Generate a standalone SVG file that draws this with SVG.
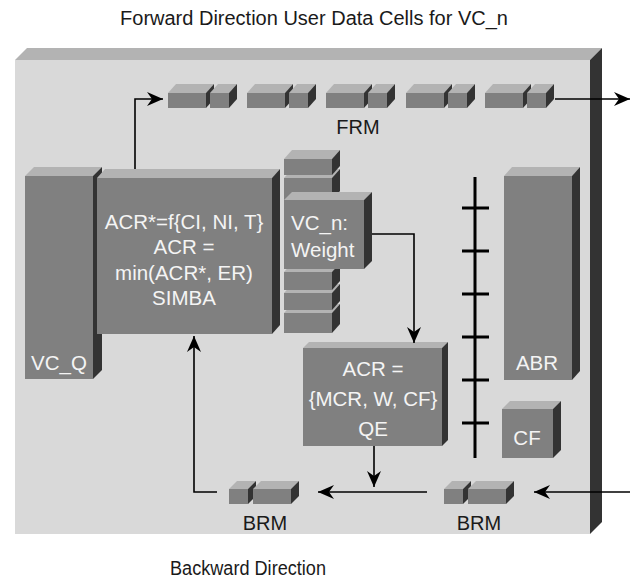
<svg xmlns="http://www.w3.org/2000/svg" xmlns:xlink="http://www.w3.org/1999/xlink" width="630" height="580" viewBox="0 0 630 580">
<style>
.front{fill:#808080}
.top{fill:#b3b3b3}
.side{fill:#333333}
.pfront{fill:#d9d9d9}
.in{font-family:"Liberation Sans",Arial,sans-serif;font-size:20.5px;fill:#f4f4f4}
.lbl{font-family:"Liberation Sans",Arial,sans-serif;font-size:20px;fill:#1a1a1a}
.ln{fill:none;stroke:#000;stroke-width:1.6}
.bus{fill:none;stroke:#000;stroke-width:3}
</style>
<defs>
<marker id="ah" viewBox="0 0 16 14" refX="16" refY="7" markerWidth="16" markerHeight="14" markerUnits="userSpaceOnUse" orient="auto">
<path d="M0,0 L16,7 L0,14 L5,7 z" fill="#000"/>
</marker>
<g id="frmPair">
<polygon class="top" points="0,0 8,-9 46,-9 38,0"/>
<polygon class="side" points="38,0 46,-9 46,6 38,15"/>
<rect class="front" x="0" y="0" width="38" height="15"/>
<polygon class="top" points="42,0 50,-9 69,-9 61,0"/>
<polygon class="side" points="61,0 69,-9 69,6 61,15"/>
<rect class="front" x="42" y="0" width="19" height="15"/>
</g>
<g id="brmPair">
<polygon class="top" points="0,0 8,-8 27,-8 19,0"/>
<polygon class="side" points="19,0 27,-8 27,7 19,15"/>
<rect class="front" x="0" y="0" width="19" height="15"/>
<polygon class="top" points="24,0 32,-8 70,-8 62,0"/>
<polygon class="side" points="62,0 70,-8 70,7 62,15"/>
<rect class="front" x="24" y="0" width="38" height="15"/>
</g>
</defs>

<g id="panel">
<polygon class="top" points="15,60 27,48 602,48 590,60"/>
<polygon class="side" points="590,60 602,48 602,522 590,534"/>
<rect class="pfront" x="15" y="60" width="575" height="474"/>
</g>

<text class="lbl" x="314" y="25" text-anchor="middle">Forward Direction User Data Cells for VC_n</text>

<g id="frm">
<use xlink:href="#frmPair" x="168" y="93"/>
<use xlink:href="#frmPair" x="247" y="93"/>
<use xlink:href="#frmPair" x="326" y="93"/>
<use xlink:href="#frmPair" x="406" y="93"/>
<use xlink:href="#frmPair" x="485" y="93"/>
<text class="lbl" x="358" y="134" text-anchor="middle">FRM</text>
</g>

<g id="vcq">
<polygon class="top" points="25,176 34,167 102,167 93,176"/>
<polygon class="side" points="93,176 102,167 102,370 93,379"/>
<rect class="front" x="25" y="176" width="68" height="203"/>
<text class="in" x="31" y="370">VC_Q</text>
</g>

<g id="simba">
<polygon class="top" points="97,178 105,169 280,169 272,178"/>
<polygon class="side" points="272,178 280,169 280,325 272,334"/>
<rect class="front" x="97" y="178" width="175" height="156"/>
<text class="in" text-anchor="middle"><tspan x="184" y="229">ACR*=f{CI, NI, T}</tspan><tspan x="184" y="254">ACR =</tspan><tspan x="184" y="280">min(ACR*, ER)</tspan><tspan x="184" y="305">SIMBA</tspan></text>
</g>

<g id="queue">
<polygon class="top" points="284,313 292,304 340,304 332,313"/>
<polygon class="side" points="332,313 340,304 340,324 332,333"/>
<rect class="front" x="284" y="313" width="48" height="20"/>
<polygon class="top" points="284,293 292,284 340,284 332,293"/>
<polygon class="side" points="332,293 340,284 340,301 332,310"/>
<rect class="front" x="284" y="293" width="48" height="17"/>
<polygon class="top" points="284,272 292,263 340,263 332,272"/>
<polygon class="side" points="332,272 340,263 340,281 332,290"/>
<rect class="front" x="284" y="272" width="48" height="18"/>
<polygon class="top" points="284,178 292,169 340,169 332,178"/>
<polygon class="side" points="332,178 340,169 340,191 332,200"/>
<rect class="front" x="284" y="178" width="48" height="22"/>
</g>

<g id="vcn">
<polygon class="top" points="284,200 292,192 372,192 364,200"/>
<polygon class="side" points="364,200 372,192 372,261 364,269"/>
<rect class="front" x="284" y="200" width="80" height="69"/>
<text class="in"><tspan x="291" y="230">VC_n:</tspan><tspan x="291" y="257">Weight</tspan></text>
</g>

<g id="queueTop">
<polygon class="top" points="284,159 292,150 340,150 332,159"/>
<polygon class="side" points="332,159 340,150 340,166 332,175"/>
<rect class="front" x="284" y="159" width="48" height="16"/>
</g>

<g id="qe">
<polygon class="top" points="303,348 309,342 448,342 442,348"/>
<polygon class="side" points="442,348 448,342 448,440 442,446"/>
<rect class="front" x="303" y="348" width="139" height="98"/>
<text class="in" text-anchor="middle"><tspan x="373" y="376">ACR =</tspan><tspan x="373" y="406">{MCR, W, CF}</tspan><tspan x="373" y="436">QE</tspan></text>
</g>

<g id="bus">
<path class="bus" d="M475,177 V458 M462,208 H489 M462,251 H489 M462,294 H489 M462,337 H489 M462,380 H489 M462,423 H489"/>
</g>

<g id="abr">
<polygon class="top" points="504,176 512,167 580,167 572,176"/>
<polygon class="side" points="572,176 580,167 580,371 572,380"/>
<rect class="front" x="504" y="176" width="68" height="204"/>
<text class="in" x="537" y="370" text-anchor="middle">ABR</text>
</g>

<g id="cf">
<polygon class="top" points="502,409 510,401 561,401 553,409"/>
<polygon class="side" points="553,409 561,401 561,450 553,458"/>
<rect class="front" x="502" y="409" width="51" height="49"/>
<text class="in" x="527" y="445" text-anchor="middle">CF</text>
</g>

<g id="brmLeft">
<use xlink:href="#brmPair" x="229" y="489"/>
<text class="lbl" x="265" y="530" text-anchor="middle">BRM</text>
</g>
<g id="brmRight">
<use xlink:href="#brmPair" x="444" y="489"/>
<text class="lbl" x="479" y="530" text-anchor="middle">BRM</text>
</g>

<g id="connectors">
<path class="ln" d="M135,169 V99 H163" marker-end="url(#ah)"/>
<path class="ln" d="M555,99 H630" marker-end="url(#ah)"/>
<path class="ln" d="M372,234 H414 V343" marker-end="url(#ah)"/>
<path class="ln" d="M374,446 V487" marker-end="url(#ah)"/>
<path class="ln" d="M427,492 H318" marker-end="url(#ah)"/>
<path class="ln" d="M630,492 H534" marker-end="url(#ah)"/>
<path class="ln" d="M217,492 H194 V336" marker-end="url(#ah)"/>
</g>

<text class="lbl" x="248" y="575" text-anchor="middle" textLength="156" lengthAdjust="spacingAndGlyphs">Backward Direction</text>
</svg>
